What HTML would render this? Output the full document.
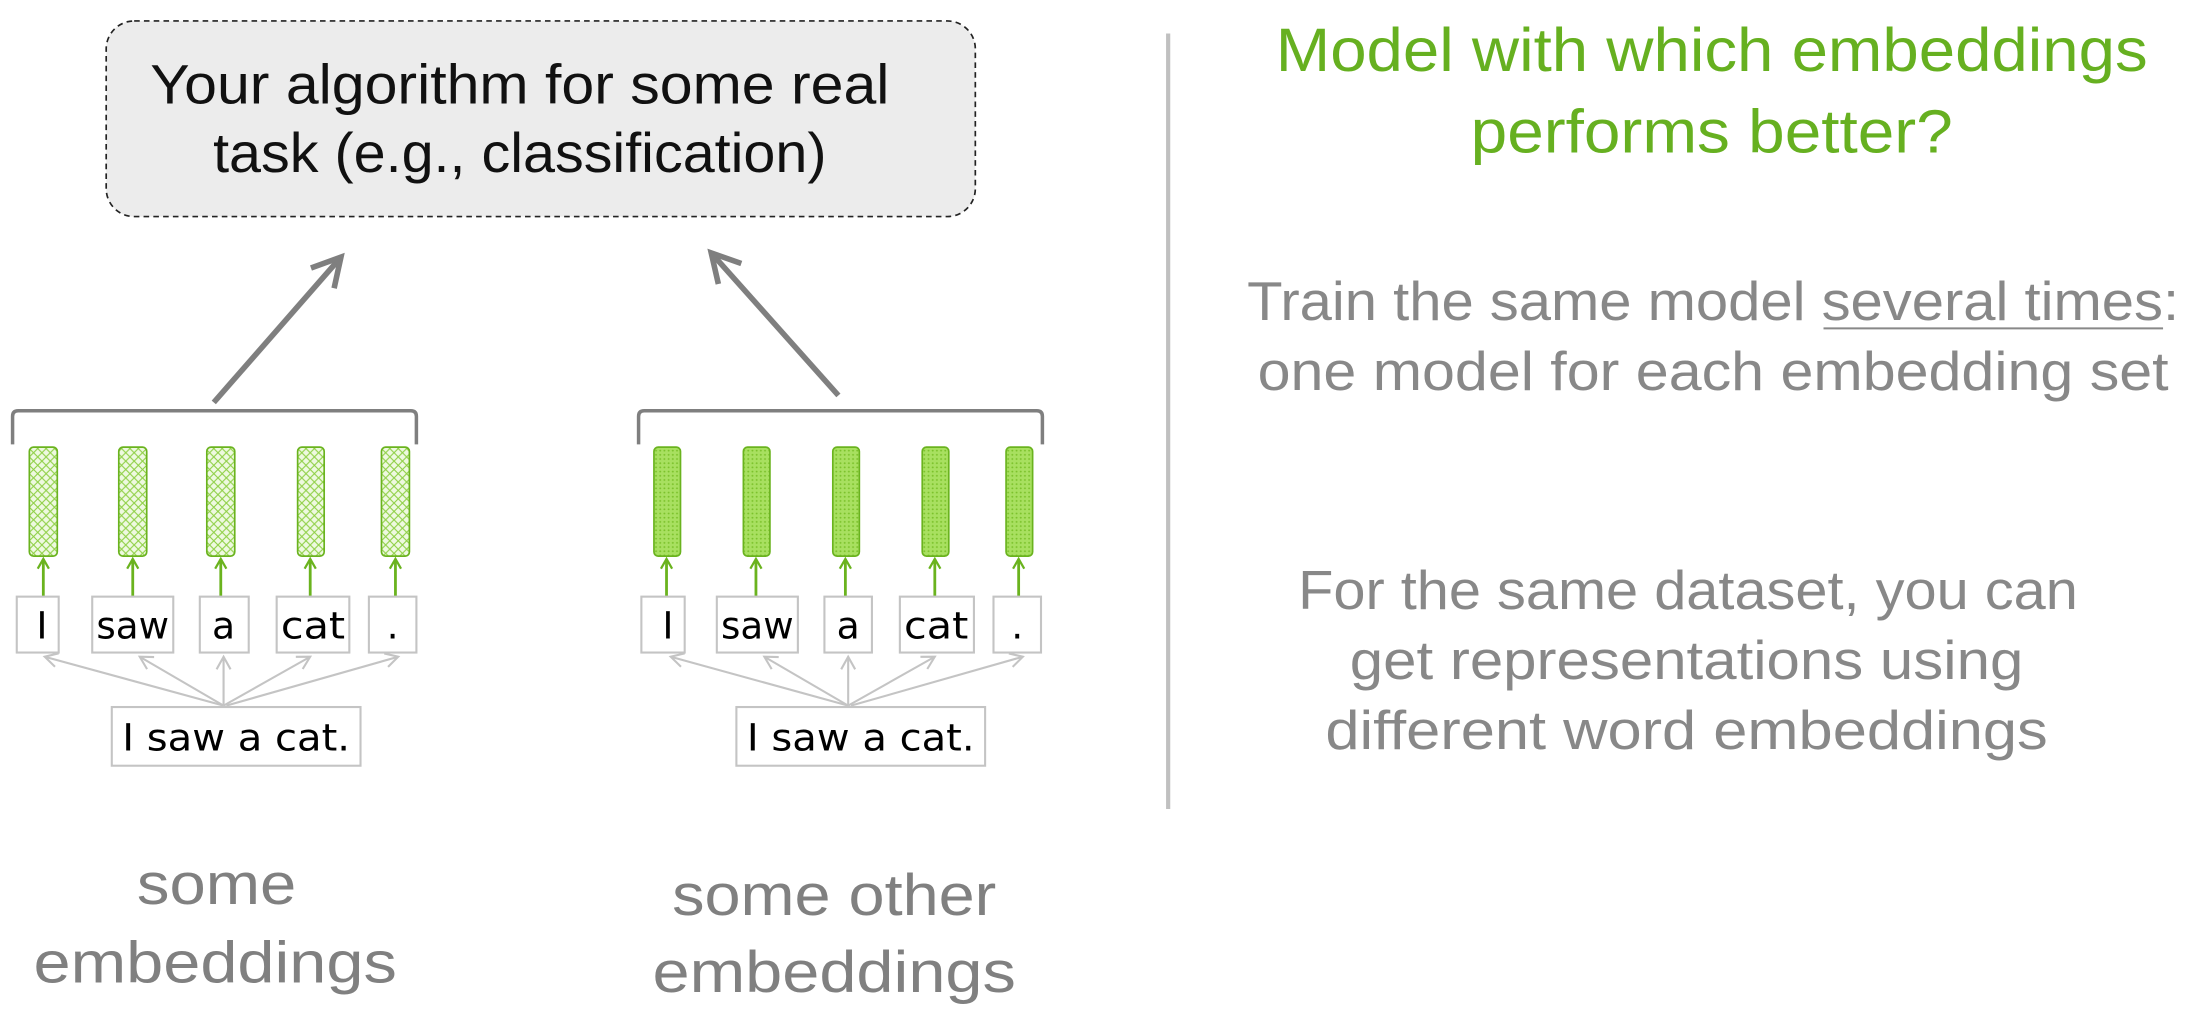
<!DOCTYPE html>
<html><head><meta charset="utf-8"><style>
html,body{margin:0;padding:0;background:#fff;}
svg{display:block;}
</style></head><body>
<svg width="2191" height="1015" viewBox="0 0 1568 726.4" preserveAspectRatio="none" xmlns="http://www.w3.org/2000/svg">
<defs>
<pattern id="hatch" width="6" height="6" patternUnits="userSpaceOnUse">
<rect width="6" height="6" fill="#eef9e0"/>
<path d="M0 0L6 6M6 0L0 6" stroke="#8fd046" stroke-width="0.8"/>
</pattern>
<pattern id="dots" width="3" height="3" patternUnits="userSpaceOnUse">
<rect width="3" height="3" fill="#a8e060"/>
<circle cx="1.5" cy="1.5" r="0.7" fill="#7cc22c"/>
</pattern>
<marker id="ga" markerWidth="10" markerHeight="10" refX="8" refY="5" orient="auto" markerUnits="userSpaceOnUse">
<path d="M1 1L8 5L1 9" fill="none" stroke="#6ab31e" stroke-width="1.6"/>
</marker>
<marker id="la" markerWidth="12" markerHeight="12" refX="10" refY="6" orient="auto" markerUnits="userSpaceOnUse">
<path d="M1 1L10 6L1 11" fill="none" stroke="#c4c4c4" stroke-width="1.5"/>
</marker>
<marker id="ba" markerWidth="30" markerHeight="30" refX="24" refY="15" orient="auto" markerUnits="userSpaceOnUse">
<path d="M4 4L24 15L4 26" fill="none" stroke="#7f7f7f" stroke-width="4"/>
</marker>
</defs>

<rect x="76" y="15" width="622" height="140" rx="20" fill="#ececec" stroke="#222" stroke-width="1.2" stroke-dasharray="4,3"/>
<g font-family="Liberation Sans, sans-serif" font-size="40" fill="#111" text-anchor="middle" lengthAdjust="spacingAndGlyphs">
<text x="372" y="74" textLength="529" lengthAdjust="spacingAndGlyphs">Your algorithm for some real</text>
<text x="372" y="123" textLength="439" lengthAdjust="spacingAndGlyphs">task (e.g., classification)</text>
</g>

<line x1="153" y1="288" x2="244" y2="184" stroke="#7f7f7f" stroke-width="4" marker-end="url(#ba)"/>
<line x1="600" y1="283" x2="509" y2="181" stroke="#7f7f7f" stroke-width="4" marker-end="url(#ba)"/>

<path d="M9 318V298Q9 294 13 294H294Q298 294 298 298V318" fill="none" stroke="#7f7f7f" stroke-width="2.5"/>
<path d="M457 318V298Q457 294 461 294H742Q746 294 746 298V318" fill="none" stroke="#7f7f7f" stroke-width="2.5"/>

<g stroke="#6ab31e" stroke-width="1.2">
<rect x="21" y="320" width="20" height="78" rx="3" fill="url(#hatch)"/>
<rect x="85" y="320" width="20" height="78" rx="3" fill="url(#hatch)"/>
<rect x="148" y="320" width="20" height="78" rx="3" fill="url(#hatch)"/>
<rect x="213" y="320" width="19" height="78" rx="3" fill="url(#hatch)"/>
<rect x="273" y="320" width="20" height="78" rx="3" fill="url(#hatch)"/>
<rect x="468" y="320" width="19" height="78" rx="3" fill="url(#dots)"/>
<rect x="532" y="320" width="19" height="78" rx="3" fill="url(#dots)"/>
<rect x="596" y="320" width="19" height="78" rx="3" fill="url(#dots)"/>
<rect x="660" y="320" width="19" height="78" rx="3" fill="url(#dots)"/>
<rect x="720" y="320" width="19" height="78" rx="3" fill="url(#dots)"/>
</g>
<g stroke="#6ab31e" stroke-width="2" marker-end="url(#ga)">
<line x1="31" y1="427" x2="31" y2="400"/><line x1="95" y1="427" x2="95" y2="400"/><line x1="158" y1="427" x2="158" y2="400"/><line x1="222" y1="427" x2="222" y2="400"/><line x1="283" y1="427" x2="283" y2="400"/>
<line x1="477" y1="427" x2="477" y2="400"/><line x1="541" y1="427" x2="541" y2="400"/><line x1="605" y1="427" x2="605" y2="400"/><line x1="669" y1="427" x2="669" y2="400"/><line x1="729" y1="427" x2="729" y2="400"/>
</g>

<g fill="#fff" stroke="#c4c4c4" stroke-width="1.5">
<rect x="12" y="427" width="30" height="40"/><rect x="66" y="427" width="58" height="40"/><rect x="143" y="427" width="35" height="40"/><rect x="198" y="427" width="52" height="40"/><rect x="264" y="427" width="34" height="40"/>
<rect x="80" y="506" width="178" height="42"/>
<rect x="459" y="427" width="31" height="40"/><rect x="513" y="427" width="58" height="40"/><rect x="590" y="427" width="34" height="40"/><rect x="644" y="427" width="53" height="40"/><rect x="711" y="427" width="34" height="40"/>
<rect x="527" y="506" width="178" height="42"/>
</g>

<g stroke="#c4c4c4" stroke-width="1.5" marker-end="url(#la)">
<line x1="160" y1="505" x2="32" y2="470"/><line x1="160" y1="505" x2="100" y2="470"/><line x1="160" y1="505" x2="160" y2="470"/><line x1="160" y1="505" x2="222" y2="470"/><line x1="162" y1="505" x2="285" y2="470"/>
<line x1="607" y1="505" x2="480" y2="470"/><line x1="607" y1="505" x2="547" y2="470"/><line x1="607" y1="505" x2="607" y2="470"/><line x1="607" y1="505" x2="669" y2="470"/><line x1="609" y1="505" x2="732" y2="470"/>
</g>

<g font-family="'Comic Sans MS','DejaVu Sans',sans-serif" font-size="27" fill="#000" text-anchor="middle">
<text x="30" y="457">I</text><text x="95" y="457" textLength="52" lengthAdjust="spacingAndGlyphs">saw</text><text x="160" y="457">a</text><text x="224" y="457" textLength="46" lengthAdjust="spacingAndGlyphs">cat</text><text x="281" y="457">.</text>
<text x="169" y="537" textLength="163" lengthAdjust="spacingAndGlyphs">I saw a cat.</text>
<text x="478" y="457">I</text><text x="542" y="457" textLength="52" lengthAdjust="spacingAndGlyphs">saw</text><text x="607" y="457">a</text><text x="670" y="457" textLength="46" lengthAdjust="spacingAndGlyphs">cat</text><text x="728" y="457">.</text>
<text x="616" y="537" textLength="163" lengthAdjust="spacingAndGlyphs">I saw a cat.</text>
</g>

<g font-family="Liberation Sans, sans-serif" font-size="42" fill="#808080" text-anchor="middle">
<text x="155" y="647" textLength="114" lengthAdjust="spacingAndGlyphs">some</text><text x="154" y="703" textLength="260" lengthAdjust="spacingAndGlyphs">embeddings</text>
<text x="597" y="655" textLength="232" lengthAdjust="spacingAndGlyphs">some other</text><text x="597" y="710" textLength="260" lengthAdjust="spacingAndGlyphs">embeddings</text>
</g>

<line x1="836" y1="24" x2="836" y2="579" stroke="#c0c0c0" stroke-width="3"/>

<g font-family="Liberation Sans, sans-serif" font-size="44" fill="#66b020" text-anchor="middle">
<text x="1225" y="51" textLength="624" lengthAdjust="spacingAndGlyphs">Model with which embeddings</text>
<text x="1225" y="109" textLength="345" lengthAdjust="spacingAndGlyphs">performs better?</text>
</g>
<g font-family="Liberation Sans, sans-serif" font-size="39" fill="#888" text-anchor="middle">
<text x="1226" y="229" textLength="667" lengthAdjust="spacingAndGlyphs">Train the same model several times:</text>
<text x="1226" y="279" textLength="652" lengthAdjust="spacingAndGlyphs">one model for each embedding set</text>
<text x="1208" y="436" textLength="558" lengthAdjust="spacingAndGlyphs">For the same dataset, you can</text>
<text x="1207" y="486" textLength="482" lengthAdjust="spacingAndGlyphs">get representations using</text>
<text x="1207" y="536" textLength="517" lengthAdjust="spacingAndGlyphs">different word embeddings</text>
</g>
<line x1="1305" y1="235" x2="1548" y2="235" stroke="#888" stroke-width="1.5"/>
</svg>
</body></html>
